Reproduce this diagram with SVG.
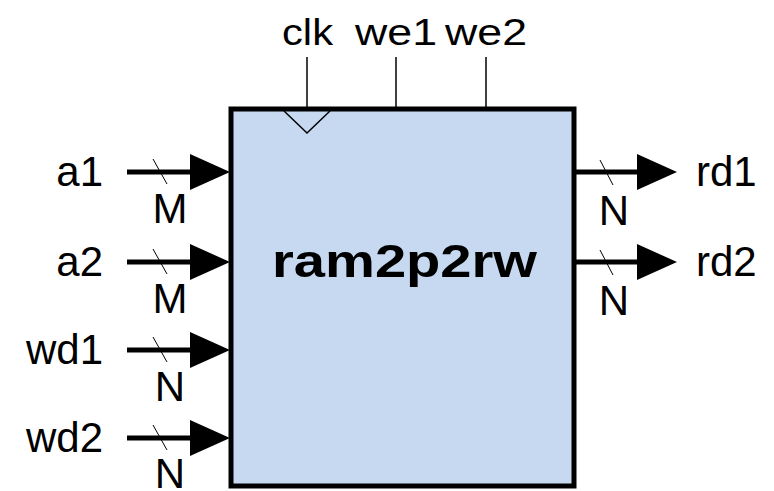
<svg xmlns="http://www.w3.org/2000/svg" width="774" height="491" viewBox="0 0 774 491">
  <defs>
    <style>
      .lbl { font-family: "Liberation Sans", Arial, sans-serif; font-size: 42px; fill: #000; }
      .top { font-family: "Liberation Sans", Arial, sans-serif; font-size: 36px; fill: #000; }
      .bus { font-family: "Liberation Sans", Arial, sans-serif; font-size: 42px; fill: #000; text-anchor: middle; }
      .title { font-family: "Liberation Sans", Arial, sans-serif; font-size: 46px; font-weight: bold; fill: #000; }
      .wire { stroke: #000; stroke-width: 5; fill: none; }
      .thin { stroke: #000; stroke-width: 1.5; fill: none; }
      .slash { stroke: #000; stroke-width: 1; fill: none; }
      .head { fill: #000; }
    </style>
  </defs>

  <!-- memory block -->
  <g id="ram2p2rw">
    <rect x="231" y="109" width="343" height="377" fill="#c6d9f0" stroke="#000" stroke-width="5"/>
    <polyline class="thin" points="284,111 307,133 330,111"/>
    <text class="title" x="272" y="277" textLength="265" lengthAdjust="spacingAndGlyphs">ram2p2rw</text>
  </g>

  <!-- control inputs on top -->
  <g id="clk">
    <text class="top" x="282" y="45" textLength="51" lengthAdjust="spacingAndGlyphs">clk</text>
  </g>
  <g id="we1">
    <text class="top" x="355" y="45" textLength="82" lengthAdjust="spacingAndGlyphs">we1</text>
  </g>
  <g id="we2">
    <text class="top" x="445" y="45" textLength="82" lengthAdjust="spacingAndGlyphs">we2</text>
  </g>

  <!-- data ports -->
  <g id="a1"><text class="lbl" x="103" y="186" text-anchor="end">a1</text><text class="bus" x="170" y="223">M</text></g>
  <g id="a2"><text class="lbl" x="103" y="276" text-anchor="end">a2</text><text class="bus" x="170" y="313">M</text></g>
  <g id="wd1"><text class="lbl" x="103" y="364" text-anchor="end">wd1</text><text class="bus" x="170" y="401">N</text></g>
  <g id="wd2"><text class="lbl" x="103" y="452" text-anchor="end">wd2</text><text class="bus" x="170" y="488">N</text></g>
  <g id="rd1"><text class="lbl" x="696" y="186">rd1</text><text class="bus" x="614" y="225">N</text></g>
  <g id="rd2"><text class="lbl" x="696" y="276">rd2</text><text class="bus" x="614" y="315">N</text></g>

  <!-- connectors -->
  <g id="connectors">
    <line class="thin" x1="307" y1="57" x2="307" y2="107"/>
    <line class="thin" x1="396" y1="57" x2="396" y2="107"/>
    <line class="thin" x1="486" y1="57" x2="486" y2="107"/>

    <line class="wire" x1="127" y1="172" x2="195" y2="172"/>
    <polygon class="head" points="190,154 230,172 190,190"/>
    <line class="slash" x1="153" y1="159" x2="167" y2="184"/>

    <line class="wire" x1="127" y1="262" x2="195" y2="262"/>
    <polygon class="head" points="190,244 230,262 190,280"/>
    <line class="slash" x1="153" y1="249" x2="167" y2="274"/>

    <line class="wire" x1="127" y1="350" x2="195" y2="350"/>
    <polygon class="head" points="190,332 230,350 190,368"/>
    <line class="slash" x1="153" y1="337" x2="167" y2="362"/>

    <line class="wire" x1="127" y1="438" x2="195" y2="438"/>
    <polygon class="head" points="190,420 230,438 190,456"/>
    <line class="slash" x1="153" y1="425" x2="167" y2="450"/>

    <line class="wire" x1="574" y1="172" x2="642" y2="172"/>
    <polygon class="head" points="637,154 677,172 637,190"/>
    <line class="slash" x1="600" y1="160" x2="613" y2="185"/>

    <line class="wire" x1="574" y1="262" x2="642" y2="262"/>
    <polygon class="head" points="637,244 677,262 637,280"/>
    <line class="slash" x1="600" y1="250" x2="613" y2="275"/>
  </g>
</svg>
